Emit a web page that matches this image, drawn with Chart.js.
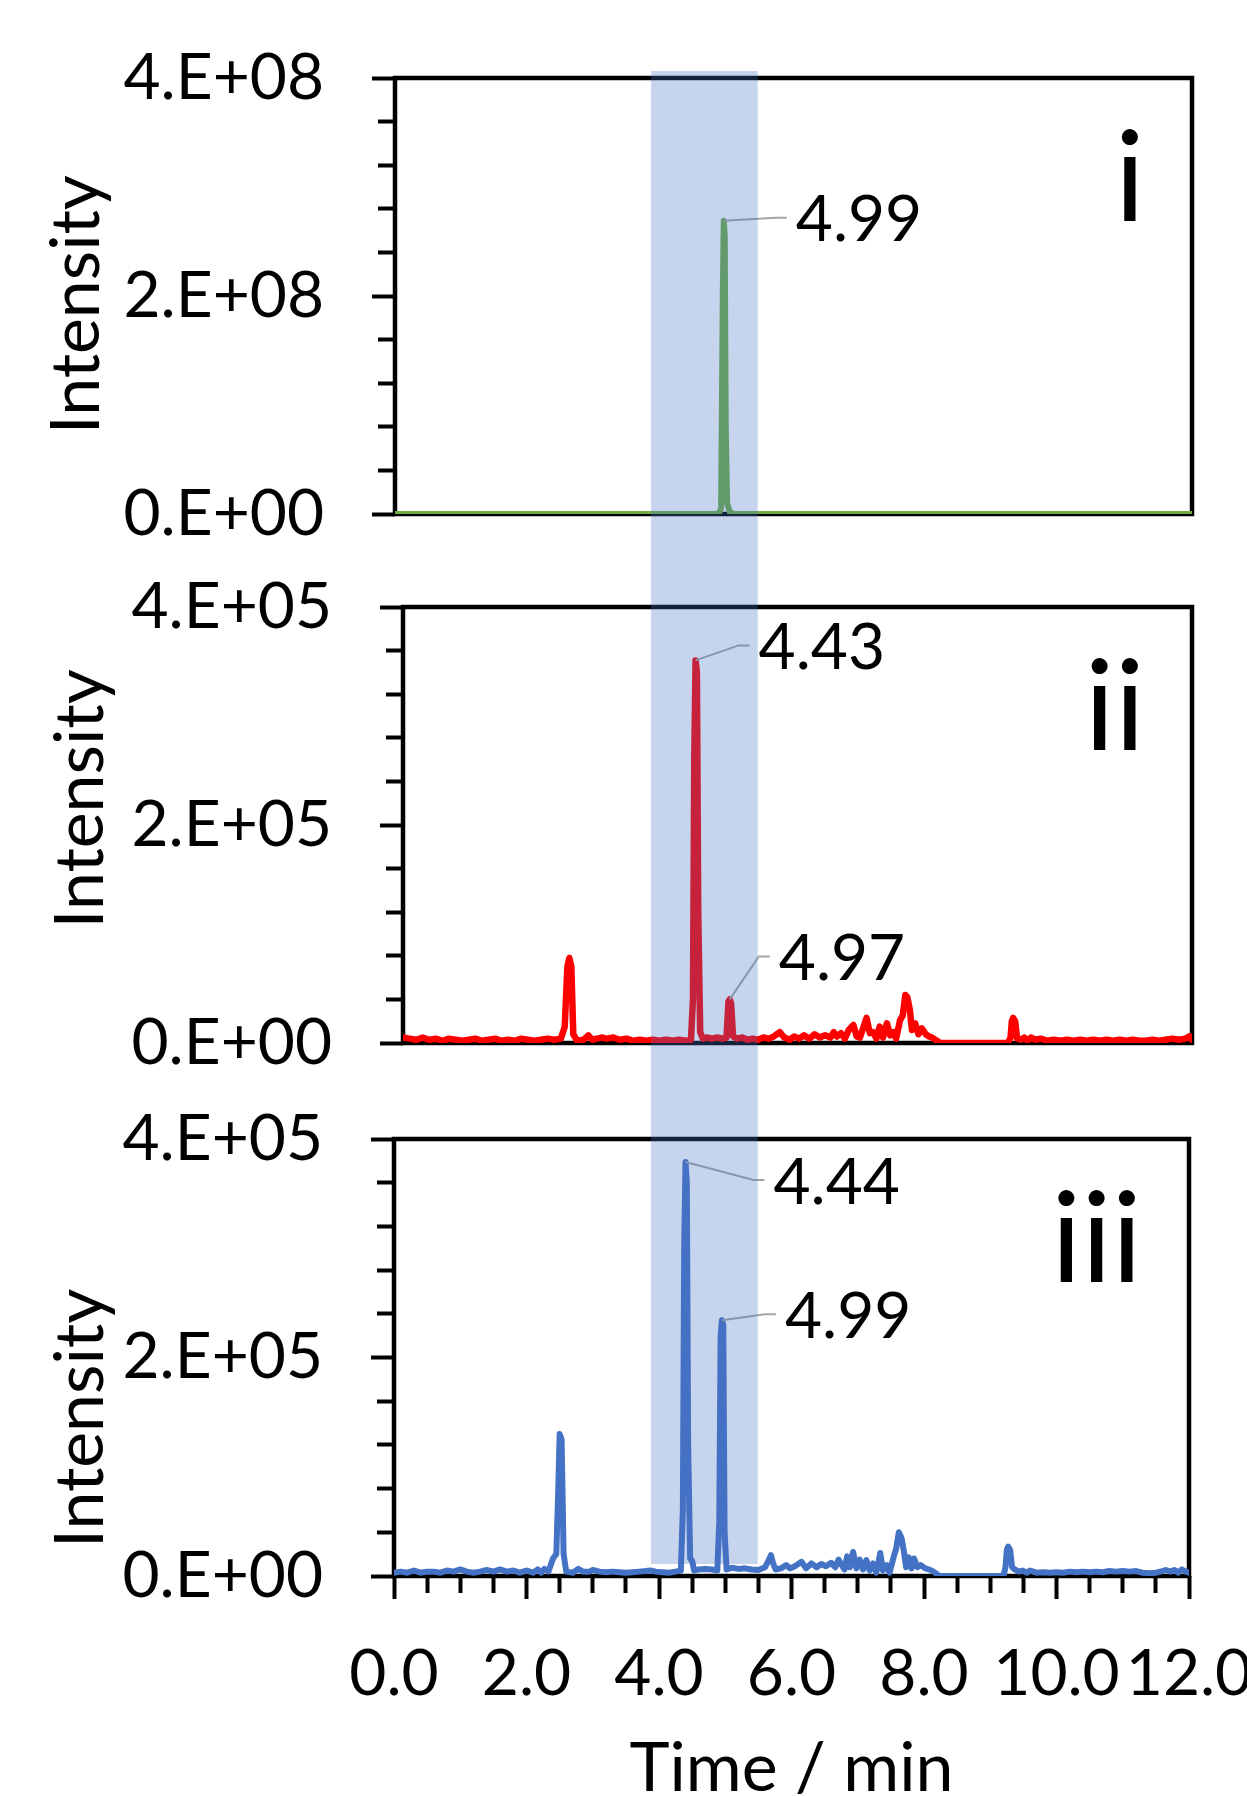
<!DOCTYPE html>
<html>
<head>
<meta charset="utf-8">
<script src="https://cdn.jsdelivr.net/npm/chart.js@4/dist/chart.umd.min.js"></script>
<style>
  body { margin: 0; background: #fff; }
  #wrap { position: relative; width: 1247px; height: 1796px; overflow: hidden; }
  canvas { position: absolute; left: 0; }
</style>
</head>
<body>
<div id="wrap">
  <canvas id="chartI" width="1247" height="560" style="top:0px"></canvas>
  <canvas id="chartII" width="1247" height="530" style="top:560px"></canvas>
  <canvas id="chartIII" width="1247" height="706" style="top:1090px"></canvas>
  <canvas id="band" width="1247" height="1796" style="top:0px"></canvas>
</div>
<script>
// time (min) / intensity pairs
// panel i in units of 1E+08, panels ii and iii in units of 1E+05
const greenTrace = [
  [0.00, 0], [4.87, 0], [4.91, 0.05], [4.935, 2.0], [4.95, 2.69], [4.965, 2.55],
  [4.98, 0.8], [5.00, 0.10], [5.04, 0.02], [5.10, 0], [12.00, 0]
];

const redTrace = [
  [0.00, 0.05], [0.10, 0.04], [0.20, 0.03], [0.30, 0.05], [0.40, 0.03], [0.50, 0.04],
  [0.60, 0.02], [0.70, 0.04], [0.80, 0.03], [0.90, 0.02], [1.00, 0.03], [1.10, 0.04],
  [1.20, 0.02], [1.30, 0.03], [1.40, 0.04], [1.50, 0.02], [1.60, 0.03], [1.70, 0.02],
  [1.80, 0.04], [1.90, 0.03], [2.00, 0.02], [2.10, 0.03], [2.20, 0.04], [2.30, 0.03],
  [2.40, 0.04], [2.46, 0.15], [2.50, 0.70], [2.53, 0.78], [2.56, 0.70], [2.59, 0.08],
  [2.65, 0.02], [2.75, 0.03], [2.82, 0.07], [2.88, 0.03], [2.95, 0.04], [3.02, 0.05],
  [3.10, 0.04], [3.20, 0.05], [3.30, 0.03], [3.40, 0.04], [3.50, 0.02], [3.60, 0.03],
  [3.70, 0.02], [3.80, 0.03], [3.90, 0.02], [4.00, 0.03], [4.10, 0.02], [4.20, 0.03],
  [4.30, 0.02], [4.38, 0.03], [4.41, 0.40], [4.43, 2.60], [4.45, 3.51], [4.47, 3.40],
  [4.49, 1.20], [4.52, 0.10], [4.56, 0.04], [4.62, 0.05], [4.70, 0.04], [4.78, 0.05],
  [4.86, 0.04], [4.92, 0.05], [4.95, 0.38], [4.97, 0.40], [4.99, 0.36], [5.02, 0.06],
  [5.08, 0.04], [5.16, 0.05], [5.24, 0.03], [5.32, 0.04], [5.40, 0.03], [5.48, 0.05],
  [5.56, 0.04], [5.64, 0.06], [5.73, 0.10], [5.80, 0.05], [5.88, 0.03], [5.95, 0.06],
  [6.02, 0.04], [6.10, 0.07], [6.18, 0.04], [6.26, 0.08], [6.34, 0.05], [6.42, 0.07],
  [6.50, 0.05], [6.55, 0.10], [6.60, 0.06], [6.66, 0.09], [6.72, 0.04], [6.78, 0.12],
  [6.85, 0.165], [6.90, 0.06], [6.95, 0.05], [7.00, 0.14], [7.05, 0.23], [7.10, 0.09],
  [7.15, 0.10], [7.20, 0.04], [7.25, 0.15], [7.30, 0.05], [7.36, 0.18], [7.41, 0.07],
  [7.46, 0.10], [7.50, 0.04], [7.56, 0.21], [7.60, 0.25], [7.64, 0.44], [7.67, 0.42],
  [7.71, 0.30], [7.74, 0.12], [7.79, 0.18], [7.84, 0.08], [7.89, 0.135], [7.95, 0.08],
  [8.00, 0.06], [8.05, 0.05], [8.12, 0.02], [8.17, 0.00], [9.20, 0.00], [9.24, 0.05],
  [9.26, 0.20], [9.28, 0.23], [9.31, 0.20], [9.34, 0.04], [9.40, 0.03], [9.45, 0.05],
  [9.50, 0.02], [9.55, 0.05], [9.62, 0.03], [9.70, 0.04], [9.80, 0.02], [9.90, 0.03],
  [10.00, 0.02], [10.10, 0.03], [10.20, 0.02], [10.30, 0.03], [10.40, 0.02], [10.50, 0.03],
  [10.60, 0.02], [10.70, 0.03], [10.80, 0.02], [10.90, 0.03], [11.00, 0.02], [11.10, 0.03],
  [11.20, 0.02], [11.30, 0.02], [11.40, 0.03], [11.50, 0.02], [11.60, 0.03], [11.70, 0.04],
  [11.80, 0.03], [11.90, 0.04], [11.96, 0.06], [12.00, 0.03]
];

const blueTrace = [
  [0.00, 0.03], [0.10, 0.04], [0.20, 0.03], [0.30, 0.05], [0.40, 0.03], [0.50, 0.04],
  [0.60, 0.04], [0.70, 0.03], [0.80, 0.05], [0.90, 0.04], [1.00, 0.06], [1.10, 0.04],
  [1.20, 0.03], [1.30, 0.04], [1.40, 0.055], [1.50, 0.04], [1.60, 0.06], [1.70, 0.04],
  [1.80, 0.05], [1.90, 0.03], [2.00, 0.05], [2.10, 0.03], [2.17, 0.06], [2.22, 0.03],
  [2.27, 0.065], [2.33, 0.04], [2.40, 0.16], [2.45, 0.20], [2.48, 0.80], [2.50, 1.30],
  [2.53, 1.25], [2.56, 0.20], [2.60, 0.04], [2.70, 0.03], [2.78, 0.065], [2.85, 0.04],
  [2.95, 0.04], [3.00, 0.055], [3.10, 0.04], [3.20, 0.035], [3.30, 0.04], [3.40, 0.035],
  [3.50, 0.03], [3.60, 0.035], [3.70, 0.04], [3.80, 0.045], [3.87, 0.05], [3.95, 0.04],
  [4.05, 0.035], [4.15, 0.03], [4.25, 0.04], [4.33, 0.05], [4.36, 0.60], [4.38, 3.00],
  [4.40, 3.79], [4.42, 3.60], [4.44, 1.20], [4.47, 0.16], [4.50, 0.14], [4.53, 0.05],
  [4.60, 0.06], [4.70, 0.065], [4.80, 0.06], [4.88, 0.05], [4.91, 0.50], [4.93, 2.20],
  [4.95, 2.34], [4.97, 2.30], [4.99, 0.40], [5.02, 0.06], [5.10, 0.075], [5.20, 0.065],
  [5.30, 0.07], [5.40, 0.06], [5.50, 0.055], [5.60, 0.08], [5.66, 0.15], [5.69, 0.19],
  [5.72, 0.12], [5.76, 0.06], [5.84, 0.07], [5.92, 0.10], [5.98, 0.07], [6.05, 0.09],
  [6.15, 0.13], [6.22, 0.07], [6.30, 0.115], [6.38, 0.08], [6.45, 0.11], [6.52, 0.09],
  [6.60, 0.12], [6.66, 0.08], [6.71, 0.15], [6.76, 0.10], [6.80, 0.06], [6.84, 0.18],
  [6.88, 0.08], [6.93, 0.22], [6.98, 0.07], [7.03, 0.15], [7.08, 0.06], [7.13, 0.145],
  [7.18, 0.05], [7.23, 0.115], [7.28, 0.03], [7.34, 0.21], [7.38, 0.05], [7.44, 0.10],
  [7.48, 0.03], [7.54, 0.17], [7.58, 0.25], [7.62, 0.40], [7.66, 0.35], [7.69, 0.25],
  [7.73, 0.08], [7.77, 0.17], [7.81, 0.07], [7.85, 0.16], [7.90, 0.08], [7.95, 0.10],
  [8.02, 0.07], [8.10, 0.055], [8.17, 0.03], [8.23, 0.00], [9.20, 0.00], [9.23, 0.08],
  [9.25, 0.24], [9.27, 0.27], [9.30, 0.24], [9.33, 0.08], [9.37, 0.06], [9.43, 0.04],
  [9.49, 0.05], [9.55, 0.03], [9.60, 0.05], [9.70, 0.03], [9.80, 0.035], [9.90, 0.03],
  [10.00, 0.035], [10.10, 0.03], [10.20, 0.04], [10.30, 0.035], [10.40, 0.04], [10.50, 0.035],
  [10.60, 0.04], [10.70, 0.035], [10.80, 0.045], [10.90, 0.04], [11.00, 0.045], [11.10, 0.04],
  [11.20, 0.045], [11.30, 0.03], [11.40, 0.025], [11.50, 0.03], [11.60, 0.045], [11.65, 0.055],
  [11.72, 0.04], [11.78, 0.055], [11.84, 0.03], [11.89, 0.06], [11.95, 0.04], [12.00, 0.03]
];

// labelled peaks: time of the marked point and the text shown
const greenPeakTimes = [4.95];
const greenPeakLabels = ['4.99'];
const redPeakTimes = [4.45, 4.97];
const redPeakLabels = ['4.43', '4.97'];
const bluePeakTimes = [4.40, 4.95];
const bluePeakLabels = ['4.44', '4.99'];

const panelTags = ['i', 'ii', 'iii'];
const yExponents = ['08', '05', '05'];
const bandRange = [3.88, 5.49]; // shaded window, min

Chart.defaults.font.family = 'Lato, "Open Sans", sans-serif';
Chart.defaults.color = '#000';

function isMajor(v, step) {
  return Math.abs(v / step - Math.round(v / step)) < 1e-6;
}

// black box round the plot area, under the traces
const framePlugin = {
  id: 'frame',
  beforeDatasetsDraw(chart) {
    const a = chart.chartArea, c = chart.ctx;
    c.save();
    c.strokeStyle = '#000';
    c.lineWidth = 4.5;
    c.strokeRect(a.left, a.top, a.right - a.left, a.bottom - a.top);
    c.restore();
  }
};

// peak retention-time labels with leader lines, and the panel numeral
const notesPlugin = {
  id: 'notes',
  afterDatasetsDraw(chart, args, opts) {
    const c = chart.ctx, a = chart.chartArea;
    const xs = chart.scales.x, ys = chart.scales.y;
    const pts = chart.data.datasets[0].data;
    c.save();
    c.font = '64px Lato';
    c.textBaseline = 'middle';
    c.textAlign = 'left';
    opts.times.forEach((t, i) => {
      const p = pts.find(d => Math.abs(d.x - t) < 1e-9);
      const px = xs.getPixelForValue(p.x), py = ys.getPixelForValue(p.y);
      const tx = px + opts.offsets[i][0], ty = py + opts.offsets[i][1];
      c.strokeStyle = '#a5a5a5';
      c.lineWidth = 2;
      c.beginPath();
      c.moveTo(px, py);
      c.lineTo(tx - 20, ty - 3);
      c.lineTo(tx - 9, ty - 3);
      c.stroke();
      c.fillStyle = '#000';
      c.fillText(opts.labels[i], tx, ty);
    });
    c.font = '126px Lato';
    c.textAlign = 'right';
    c.textBaseline = 'alphabetic';
    c.fillText(opts.tag, a.right - 47, a.top + 144);
    c.restore();
  }
};

function makePanel(id, trace, color, width, cfg) {
  const xAxis = cfg.showX ? {
    type: 'linear', min: 0, max: 12,
    afterFit: s => { s.height = cfg.xHeight; s.paddingLeft = 0; s.paddingRight = 0; },
    border: { display: false },
    grid: {
      drawOnChartArea: false, tickLength: 23, tickWidth: 4, tickColor: '#000',
      tickBorderDash: ctx => (ctx.tick && !isMajor(ctx.tick.value, 2)) ? [17, 6] : []
    },
    ticks: {
      stepSize: 0.5, autoSkip: false, maxRotation: 0, minRotation: 0, padding: 37,
      font: { size: 64 }, color: '#000',
      callback: v => isMajor(v, 2) ? v.toFixed(1) : ''
    },
    title: { display: true, text: 'Time / min', font: { size: 68, lineHeight: 0.8 }, padding: 0, color: '#000' }
  } : { type: 'linear', min: 0, max: 12, display: false };

  return new Chart(document.getElementById(id), {
    type: 'line',
    data: {
      datasets: [{
        data: trace.map(([t, v]) => ({ x: t, y: v })),
        borderColor: color,
        borderWidth: width,
        pointRadius: 0,
        tension: 0,
        fill: false,
        borderJoinStyle: 'round',
        borderCapStyle: 'round'
      }]
    },
    options: {
      responsive: false,
      animation: false,
      layout: { padding: cfg.padding },
      plugins: {
        legend: { display: false },
        tooltip: { enabled: false },
        notes: cfg.notes
      },
      scales: {
        x: xAxis,
        y: {
          min: 0, max: 4,
          afterFit: s => { s.width = cfg.yWidth; s.paddingTop = 0; s.paddingBottom = 0; },
          border: { display: false },
          grid: {
            drawOnChartArea: false, tickLength: 23, tickWidth: 4, tickColor: '#000',
            tickBorderDash: ctx => (ctx.tick && !isMajor(ctx.tick.value, 2)) ? [0, 6, 17, 0] : []
          },
          ticks: {
            stepSize: 0.4, autoSkip: false, padding: 48, font: { size: 64 }, color: '#000',
            callback: v => isMajor(v, 2) ? (v === 0 ? '0.E+00' : Math.round(v) + '.E+' + cfg.exp) : ''
          },
          title: {
            display: true, text: cfg.yTitle, font: { size: 68 },
            padding: { top: cfg.titlePad, bottom: 0 }, color: '#000'
          }
        }
      }
    },
    plugins: [framePlugin, notesPlugin]
  });
}

const chartI = makePanel('chartI', greenTrace, '#70ad47', 6, {
  padding: { left: 0, top: 78, right: 55, bottom: 46 },
  yWidth: 395, exp: yExponents[0], yTitle: 'Intensity ', titlePad: 36,
  notes: { times: greenPeakTimes, labels: greenPeakLabels, offsets: [[72, 0]], tag: panelTags[0] }
});

const chartII = makePanel('chartII', redTrace, '#ff0000', 6.5, {
  padding: { left: 0, top: 47, right: 55, bottom: 47 },
  yWidth: 403, exp: yExponents[1], yTitle: '   Intensity', titlePad: 40,
  notes: { times: redPeakTimes, labels: redPeakLabels, offsets: [[63, -12], [49, -40]], tag: panelTags[1] }
});

const chartIII = makePanel('chartIII', blueTrace, '#4472c4', 6, {
  showX: true, xHeight: 220,
  padding: { left: 0, top: 49, right: 58, bottom: 0 },
  yWidth: 394, exp: yExponents[2], yTitle: 'Intensity       ', titlePad: 40,
  notes: { times: bluePeakTimes, labels: bluePeakLabels, offsets: [[88, 21], [63, -3]], tag: panelTags[2] }
});

// translucent window drawn over all three panels
const bandCanvas = document.getElementById('band');
const bc = bandCanvas.getContext('2d');
const cI = document.getElementById('chartI'), cIII = document.getElementById('chartIII');
const bx0 = chartIII.scales.x.getPixelForValue(bandRange[0]);
const bx1 = chartIII.scales.x.getPixelForValue(bandRange[1]);
const by0 = cI.offsetTop + chartI.chartArea.top - 7;
const by1 = cIII.offsetTop + chartIII.chartArea.bottom - 12;
bc.fillStyle = 'rgba(68, 114, 196, 0.3)';
bc.fillRect(bx0, by0, bx1 - bx0, by1 - by0);
</script>
</body>
</html>
